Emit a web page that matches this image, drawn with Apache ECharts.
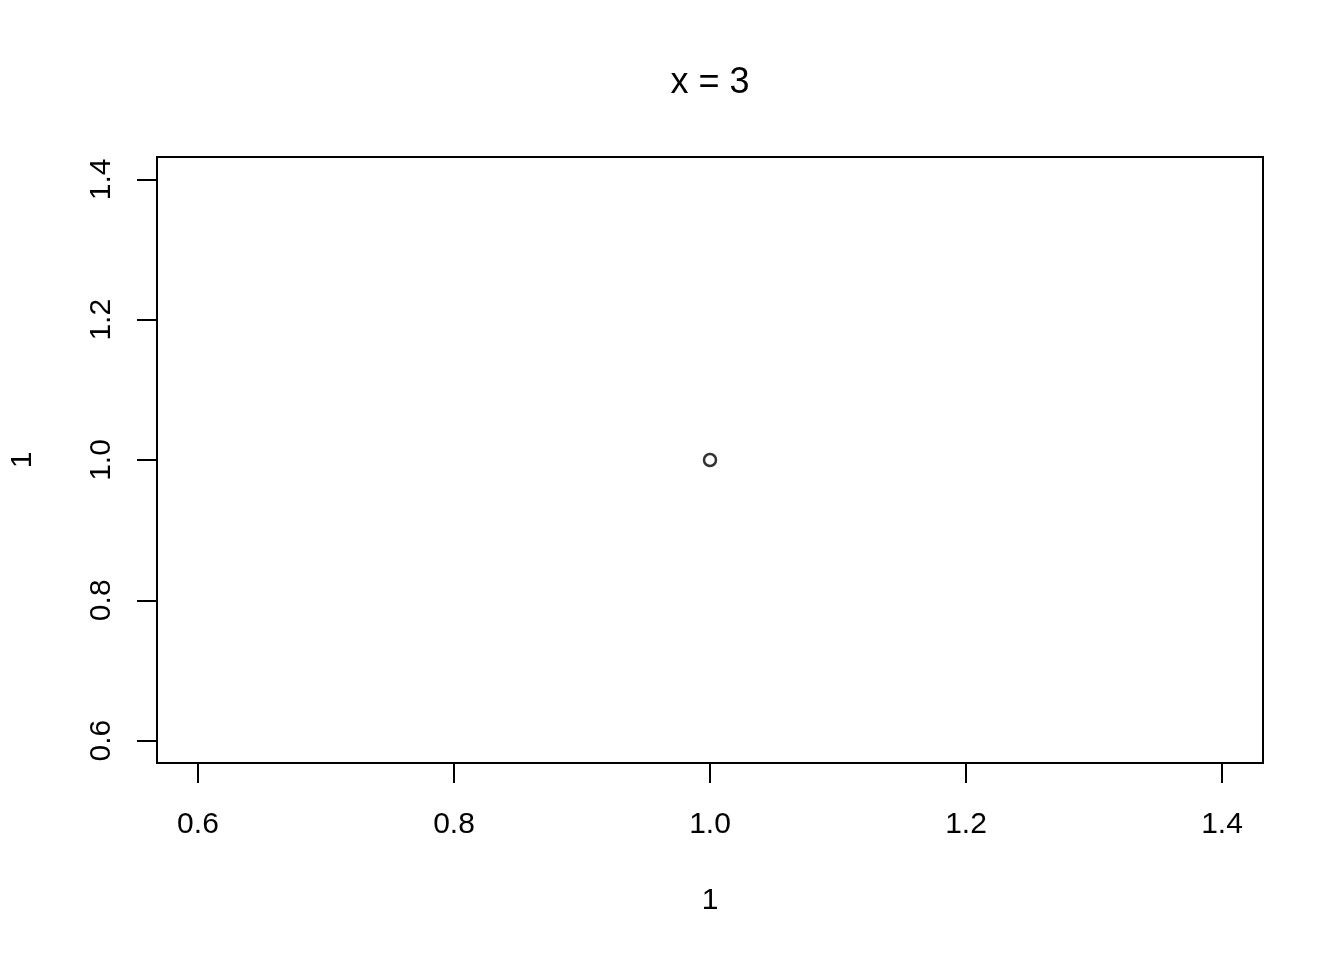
<!DOCTYPE html>
<html>
<head>
<meta charset="utf-8">
<script src="https://cdn.jsdelivr.net/npm/echarts@6/dist/echarts.min.js"></script>
<style>html,body{margin:0;padding:0;background:#fff}#c{width:1344px;height:960px}</style>
</head>
<body>
<div id="c"></div>
<script>
const xValues = [1];
const yValues = [1];
const xTicks = [0.6, 0.8, 1.0, 1.2, 1.4];
const yTicks = [0.6, 0.8, 1.0, 1.2, 1.4];
const titleText = 'x = 3';
const xName = '1';
const yName = '1';

const FONT = 'Liberation Sans, Arial, sans-serif';
const chart = echarts.init(document.getElementById('c'), null, {renderer: 'canvas'});
const fmt = v => Number(v).toFixed(1);
chart.setOption({
  animation: false,
  backgroundColor: '#fff',
  title: {
    text: titleText, left: 705, top: 60, textAlign: 'center',
    textStyle: {fontFamily: FONT, fontSize: 36, fontWeight: 'normal', color: '#000'}
  },
  grid: {left: 157, top: 157, right: 81, bottom: 197, outerBoundsMode: 'none', containLabel: false,
    show: true, borderColor: '#000', borderWidth: 2, backgroundColor: 'transparent'},
  xAxis: {
    type: 'value', min: 0.568, max: 1.432,
    name: xName, nameLocation: 'middle', nameGap: 123,
    nameTextStyle: {fontFamily: FONT, fontSize: 30, color: '#000'},
    axisLine: {show: false},
    splitLine: {show: false},
    axisTick: {show: true, customValues: xTicks, length: 20, lineStyle: {color: '#000', width: 2}},
    axisLabel: {customValues: xTicks, formatter: fmt, margin: 47, fontFamily: FONT, fontSize: 30, color: '#000'}
  },
  yAxis: {
    type: 'value', min: 0.568, max: 1.432,
    name: yName, nameLocation: 'middle', nameGap: 119, nameRotate: 90,
    nameTextStyle: {fontFamily: FONT, fontSize: 30, color: '#000'},
    axisLine: {show: false},
    splitLine: {show: false},
    axisTick: {show: true, customValues: yTicks, length: 20, lineStyle: {color: '#000', width: 2}},
    axisLabel: {customValues: yTicks, formatter: fmt, rotate: 90, margin: 40, fontFamily: FONT, fontSize: 30, color: '#000'}
  },
  series: [{
    type: 'scatter',
    data: xValues.map((x, i) => [x, yValues[i]]),
    symbol: 'circle', symbolSize: 12,
    itemStyle: {color: '#fff', borderColor: '#000', borderWidth: 2.5}
  }]
});
</script>
</body>
</html>
